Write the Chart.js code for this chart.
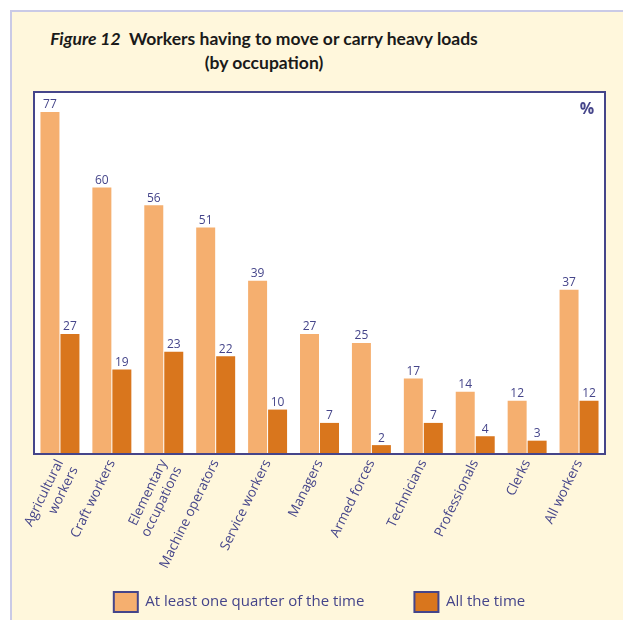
<!DOCTYPE html>
<html>
<head>
<meta charset="utf-8">
<script src="https://cdn.jsdelivr.net/npm/chart.js@4/dist/chart.umd.min.js"></script>
<style>
  html, body { margin: 0; padding: 0; background: #ffffff; width: 623px; height: 620px; overflow: hidden; }
  #panel { position: absolute; left: 10px; top: 10px; width: 613px; height: 610px; background: #FFF7DC;
           border-left: 2px solid #CACAE6; border-top: 2px solid #CACAE6; box-sizing: border-box; }
  #title { position: absolute; left: 0; top: 27px; width: 528px; text-align: center;
           font-family: Lato, "Open Sans", sans-serif; font-weight: 700; font-size: 17.5px;
           line-height: 24px; color: #1a1a1a; }
  #chart { position: absolute; left: 0; top: 0; }
</style>
</head>
<body>
<div id="panel"></div>
<div id="title"><i>Figure 12</i>&nbsp; Workers having to move or carry heavy loads<br>(by occupation)</div>
<canvas id="chart" width="623" height="620"></canvas>
<script>
const categories = [["Agricultural", "workers"], "Craft workers", ["Elementary", "occupations"], "Machine operators",
  "Service workers", "Managers", "Armed forces", "Technicians", "Professionals", "Clerks", "All workers"];
const quarterOfTime = [77, 60, 56, 51, 39, 27, 25, 17, 14, 12, 37];
const allOfTime = [27, 19, 23, 22, 10, 7, 2, 7, 4, 3, 12];
const seriesNames = ["At least one quarter of the time", "All the time"];
const unitLabel = "%";

const NAVY = "#45458A";
const FONT = '"Open Sans", "Noto Sans", sans-serif';

const plotFrame = {
  id: "plotFrame",
  beforeDraw(chart) {
    const { ctx, chartArea: a } = chart;
    ctx.save();
    ctx.fillStyle = "#ffffff";
    ctx.fillRect(a.left, a.top, a.right - a.left, a.bottom - a.top);
    ctx.restore();
  },
  afterDatasetsDraw(chart) {
    const { ctx, chartArea: a } = chart;
    ctx.save();
    ctx.fillStyle = NAVY;
    ctx.font = "12px " + FONT;
    ctx.textAlign = "center";
    ctx.textBaseline = "bottom";
    chart.data.datasets.forEach((ds, di) => {
      chart.getDatasetMeta(di).data.forEach((el, i) => {
        ctx.fillText(String(ds.data[i]), el.x, el.y - 1);
      });
    });
    ctx.strokeStyle = NAVY;
    ctx.lineWidth = 2;
    ctx.strokeRect(a.left, a.top, a.right - a.left, a.bottom - a.top);
    ctx.font = "bold 16px " + FONT;
    ctx.textAlign = "center";
    ctx.textBaseline = "top";
    ctx.fillText(unitLabel, a.right - 18, a.top + 9);
    ctx.restore();
  }
};

new Chart(document.getElementById("chart"), {
  type: "bar",
  data: {
    labels: categories,
    datasets: [
      { label: seriesNames[0], data: quarterOfTime, backgroundColor: "#F5AF6F", borderWidth: 0,
        categoryPercentage: 0.77, barPercentage: 0.95 },
      { label: seriesNames[1], data: allOfTime, backgroundColor: "#D9761D", borderWidth: 0,
        categoryPercentage: 0.77, barPercentage: 0.95 }
    ]
  },
  options: {
    responsive: false,
    animation: false,
    layout: { padding: { top: 92, left: 34, right: 18, bottom: -2 } },
    scales: {
      x: {
        grid: { display: false, drawTicks: false },
        border: { display: false },
        ticks: { color: NAVY, font: { family: FONT, size: 13.5 }, minRotation: 64, maxRotation: 64,
                 autoSkip: false, padding: 3 },
        afterFit(scale) {
          scale.height = 88;
          scale._computeLabelArea = () => null;
        }
      },
      y: { display: false, min: 0, max: 81.5 }
    },
    plugins: {
      legend: {
        position: "bottom",
        labels: {
          color: NAVY, font: { family: FONT, size: 15 }, boxWidth: 24, boxHeight: 20, padding: 50,
          generateLabels(chart) {
            return Chart.defaults.plugins.legend.labels.generateLabels(chart).map(it => {
              it.strokeStyle = NAVY; it.lineWidth = 2; return it;
            });
          }
        }
      },
      tooltip: { enabled: false },
      title: { display: false }
    }
  },
  plugins: [plotFrame]
});
</script>
</body>
</html>
